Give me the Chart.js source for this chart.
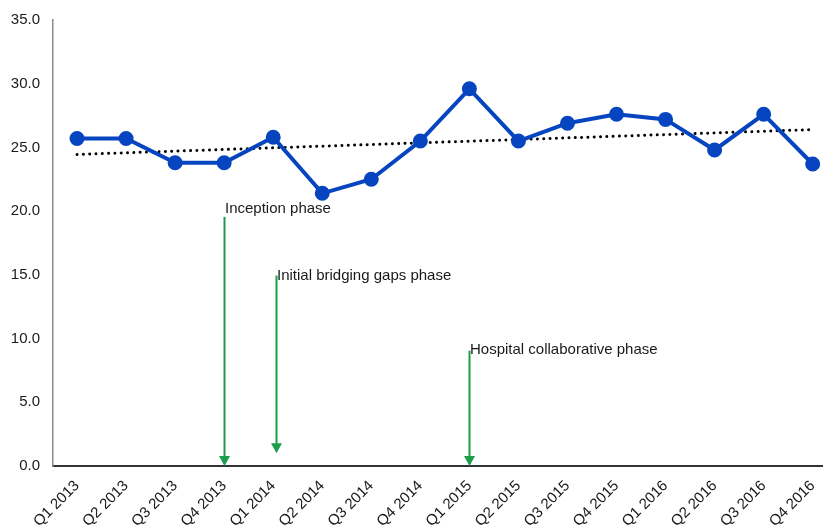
<!DOCTYPE html>
<html>
<head>
<meta charset="utf-8">
<script src="https://cdn.jsdelivr.net/npm/chart.js@4/dist/chart.umd.min.js"></script>
<style>
  body { margin: 0; background: #fff; }
  #chart { display: block; }
</style>
</head>
<body>
<canvas id="chart" width="823" height="527"></canvas>
<script>
// quarters on the x axis
const quarters = ['Q1 2013', 'Q2 2013', 'Q3 2013', 'Q4 2013', 'Q1 2014', 'Q2 2014', 'Q3 2014', 'Q4 2014',
    'Q1 2015', 'Q2 2015', 'Q3 2015', 'Q4 2015', 'Q1 2016', 'Q2 2016', 'Q3 2016', 'Q4 2016'];
const rates = [25.7, 25.7, 23.8, 23.8, 25.8, 21.4, 22.5, 25.5, 29.6, 25.5, 26.9, 27.6, 27.2, 24.8, 27.6, 23.7];

// dotted trend line, start and end
const trendX = [0, 15];
const trendY = [24.45, 26.4];

const yTicks = [0, 5, 10, 15, 20, 25, 30, 35];

// phase arrows (x in quarter index, y in axis units)
const phaseLabels = ['Inception phase', 'Initial bridging gaps phase', 'Hospital collaborative phase'];
const phaseX = [3, 4.06, 8];
const phaseTop = [19.55, 14.94, 9.05];
const phaseTip = [0, 1.0, 0];
const phaseLabelY = [20.2, 14.95, 9.15];

const FONT = '"Liberation Sans", Arial, sans-serif';

const phaseArrows = {
    id: 'phaseArrows',
    afterDatasetsDraw(chart) {
        const ctx = chart.ctx;
        const xs = chart.scales.x;
        const ys = chart.scales.y;
        ctx.save();
        phaseLabels.forEach((label, i) => {
            const x = Math.round(xs.getPixelForValue(phaseX[i])) + 0.5;
            const top = ys.getPixelForValue(phaseTop[i]);
            const tip = ys.getPixelForValue(phaseTip[i]);
            const head = 10;
            ctx.strokeStyle = '#1b9e4b';
            ctx.fillStyle = '#1b9e4b';
            ctx.lineWidth = 2;
            ctx.beginPath();
            ctx.moveTo(x, top);
            ctx.lineTo(x, tip - head + 1);
            ctx.stroke();
            ctx.beginPath();
            ctx.moveTo(x - 5.5, tip - head);
            ctx.lineTo(x + 5.5, tip - head);
            ctx.lineTo(x, tip);
            ctx.closePath();
            ctx.fill();

            ctx.fillStyle = '#1a1a1a';
            ctx.font = '15px ' + FONT;
            ctx.textBaseline = 'middle';
            ctx.textAlign = 'left';
            ctx.fillText(label, x + 0.5, ys.getPixelForValue(phaseLabelY[i]));
        });
        ctx.restore();
    }
};

new Chart(document.getElementById('chart'), {
    type: 'line',
    data: {
        datasets: [
            {
                data: rates.map((v, i) => ({ x: i, y: v })),
                borderColor: '#0645bf',
                backgroundColor: '#0645bf',
                borderWidth: 4,
                pointRadius: 5.5,
                pointHoverRadius: 5.5,
                tension: 0,
                order: 1
            },
            {
                data: trendX.map((x, i) => ({ x: x, y: trendY[i] })),
                borderColor: '#000',
                borderWidth: 3,
                borderDash: [0.01, 6.3],
                borderCapStyle: 'round',
                pointRadius: 0,
                order: 2
            }
        ]
    },
    options: {
        responsive: false,
        animation: false,
        layout: { autoPadding: false, padding: { left: 0, top: 20, right: 0, bottom: 0 } },
        plugins: { legend: { display: false }, tooltip: { enabled: false } },
        scales: {
            x: {
                type: 'linear',
                min: -0.49,
                max: 15.21,
                grid: { display: false, drawTicks: false },
                border: { display: true, color: '#333', width: 2 },
                afterBuildTicks: s => { s.ticks = quarters.map((q, i) => ({ value: i })); },
                afterFit: s => { s.height = 61; s.paddingLeft = 0; s.paddingRight = 0; },
                ticks: {
                    autoSkip: false,
                    minRotation: 45,
                    maxRotation: 45,
                    padding: 11,
                    color: '#1a1a1a',
                    font: { family: FONT, size: 15 },
                    callback: v => quarters[v]
                }
            },
            y: {
                min: 0,
                max: 35,
                grid: { display: false, drawTicks: false },
                border: { display: true, color: '#8a8a8a', width: 1.5 },
                afterBuildTicks: s => { s.ticks = yTicks.map(v => ({ value: v })); },
                afterFit: s => { s.width = 53; s.paddingTop = 0; s.paddingBottom = 0; },
                ticks: {
                    padding: 13,
                    color: '#1a1a1a',
                    font: { family: FONT, size: 15 },
                    callback: v => v.toFixed(1)
                }
            }
        }
    },
    plugins: [phaseArrows]
});
</script>
</body>
</html>
